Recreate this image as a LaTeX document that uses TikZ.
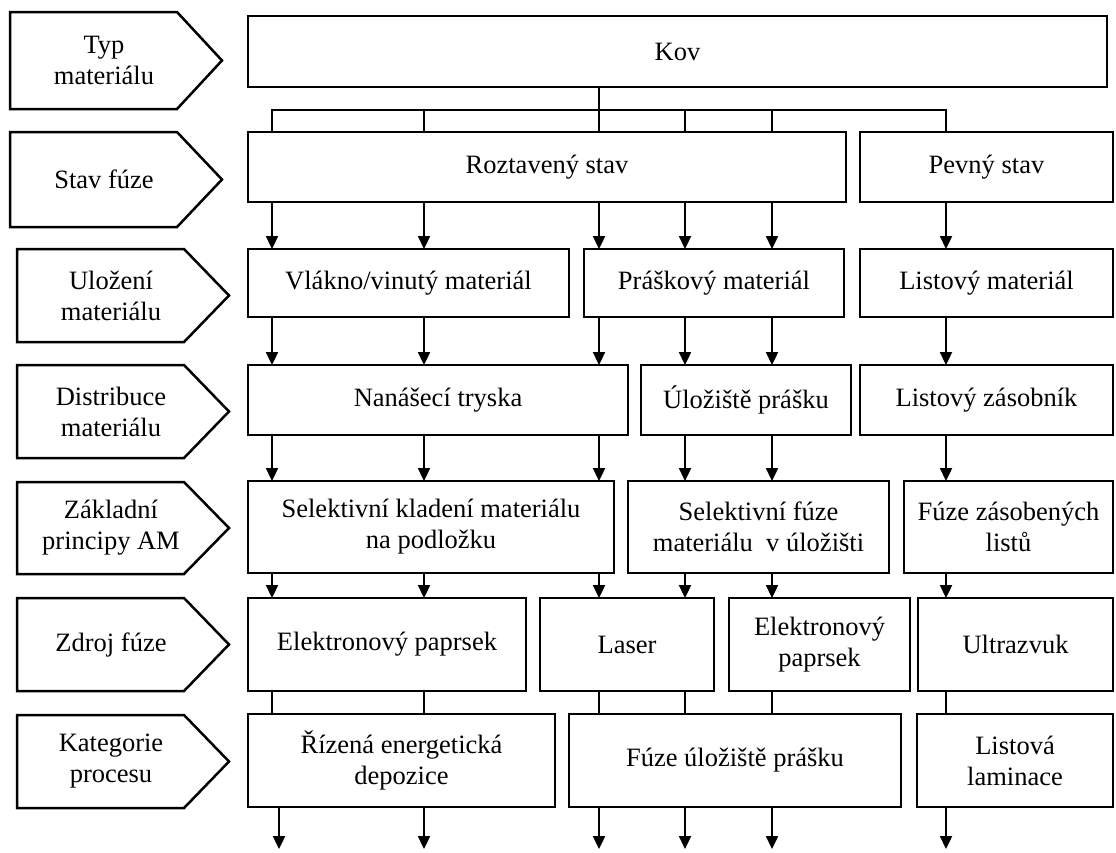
\documentclass[tikz,border=0pt]{standalone}
\usepackage{fontspec}
\setmainfont{Liberation Serif}
\usetikzlibrary{arrows.meta}
\newcommand\mybox[6]{\node[box,minimum width={(#4)-(#2)},minimum height={(#5)-(#3)}] (#1) at (#2,#3) {#6};}
\newcommand\mychev[5]{%
  \draw[chev] (#2,#3) -- ({#2+167},#3) -- ({#2+212},{(#3+#4)/2}) -- ({#2+167},#4) -- (#2,#4) -- cycle;
  \node (#1) at ({#2+94},{(#3+#4)/2}) {#5};}
\begin{document}
\begin{tikzpicture}[x=1pt,y=-1pt,
  every node/.style={font=\fontsize{26.5}{31}\selectfont, align=center, inner sep=0pt, outer sep=0pt},
  box/.style={draw, line width=2.5pt, anchor=north west},
  chev/.style={draw, line width=2.5pt, line join=miter},
  conn/.style={line width=2.3pt},
  arr/.style={conn, -{Triangle[length=13pt,width=12pt]}}]
\useasboundingbox[fill=white] (0,0) rectangle (1116,852);

% left labels
\mychev{l1}{10}{12}{109}{Typ\\materiálu}
\mychev{l2}{10}{132}{227}{Stav fúze}
\mychev{l3}{17}{249}{342}{Uložení\\materiálu}
\mychev{l4}{17}{365}{458}{Distribuce\\materiálu}
\mychev{l5}{17}{482}{574}{Základní\\principy AM}
\mychev{l6}{17}{598}{691}{Zdroj fúze}
\mychev{l7}{17}{715}{808}{Kategorie\\procesu}

% boxes
\mybox{kov}{248}{16}{1107}{87}{Kov}
\mybox{roz}{248}{132}{846}{202}{Roztavený stav}
\mybox{pev}{860}{132}{1113}{202}{Pevný stav}
\mybox{vla}{248}{249}{569}{317}{Vlákno/vinutý materiál}
\mybox{pra}{584}{249}{844}{317}{Práškový materiál}
\mybox{lim}{860}{249}{1113}{317}{Listový materiál}
\mybox{nan}{248}{365}{628}{435}{Nanášecí tryska}
\mybox{ulo}{641}{365}{851}{435}{Úložiště prášku}
\mybox{liz}{860}{365}{1113}{435}{Listový zásobník}
\mybox{sk}{248}{481}{614}{573}{Selektivní kladení materiálu\\na podložku}
\mybox{sf}{628}{481}{889}{573}{Selektivní fúze\\materiálu~ v úložišti}
\mybox{fz}{904}{481}{1113}{573}{Fúze zásobených\\listů}
\mybox{ep1}{248}{598}{526}{691}{Elektronový paprsek}
\mybox{las}{540}{598}{714}{691}{Laser}
\mybox{ep2}{729}{598}{910}{691}{Elektronový\\paprsek}
\mybox{ult}{918}{598}{1113}{691}{Ultrazvuk}
\mybox{red}{248}{714}{555}{807}{Řízená energetická\\depozice}
\mybox{fup}{569}{714}{901}{807}{Fúze úložiště prášku}
\mybox{lam}{917}{714}{1113}{807}{Listová\\laminace}

% columns
\coordinate (c1) at (272,0);
\coordinate (c1b) at (279,0);
\coordinate (c2) at (424,0);
\coordinate (c3) at (599,0);
\coordinate (c4) at (685,0);
\coordinate (c5) at (772,0);
\coordinate (c6) at (946,0);
\coordinate (br) at (0,110);
\coordinate (bot) at (0,849);

% branch from Kov
\draw[conn] (kov.south -| c3) -- (c3 |- br);
\draw[conn] (roz.north -| c1) -- (c1 |- br) -- (c6 |- br) -- (pev.north -| c6);
\foreach \c in {c2,c3,c4,c5} {\draw[conn] (\c |- br) -- (roz.north -| \c);}

% arrows between rows
\foreach \a/\b/\c in {roz/vla/c1, roz/vla/c2, roz/pra/c3, roz/pra/c4, roz/pra/c5, pev/lim/c6,
  vla/nan/c1, vla/nan/c2, pra/nan/c3, pra/ulo/c4, pra/ulo/c5, lim/liz/c6,
  nan/sk/c1, nan/sk/c2, nan/sk/c3, ulo/sf/c4, ulo/sf/c5, liz/fz/c6,
  sk/ep1/c1, sk/ep1/c2, sk/las/c3, sf/las/c4, sf/ep2/c5, fz/ult/c6}
  {\draw[arr] (\a.south -| \c) -- (\b.north -| \c);}

% plain lines row 6 -> 7
\foreach \a/\b/\c in {ep1/red/c1, ep1/red/c2, las/fup/c3, las/fup/c4, ep2/fup/c5, ult/lam/c6}
  {\draw[conn] (\a.south -| \c) -- (\b.north -| \c);}

% outgoing arrows
\foreach \a/\c in {red/c1b, red/c2, fup/c3, fup/c4, fup/c5, lam/c6}
  {\draw[arr] (\a.south -| \c) -- (\c |- bot);}
\end{tikzpicture}
\end{document}
